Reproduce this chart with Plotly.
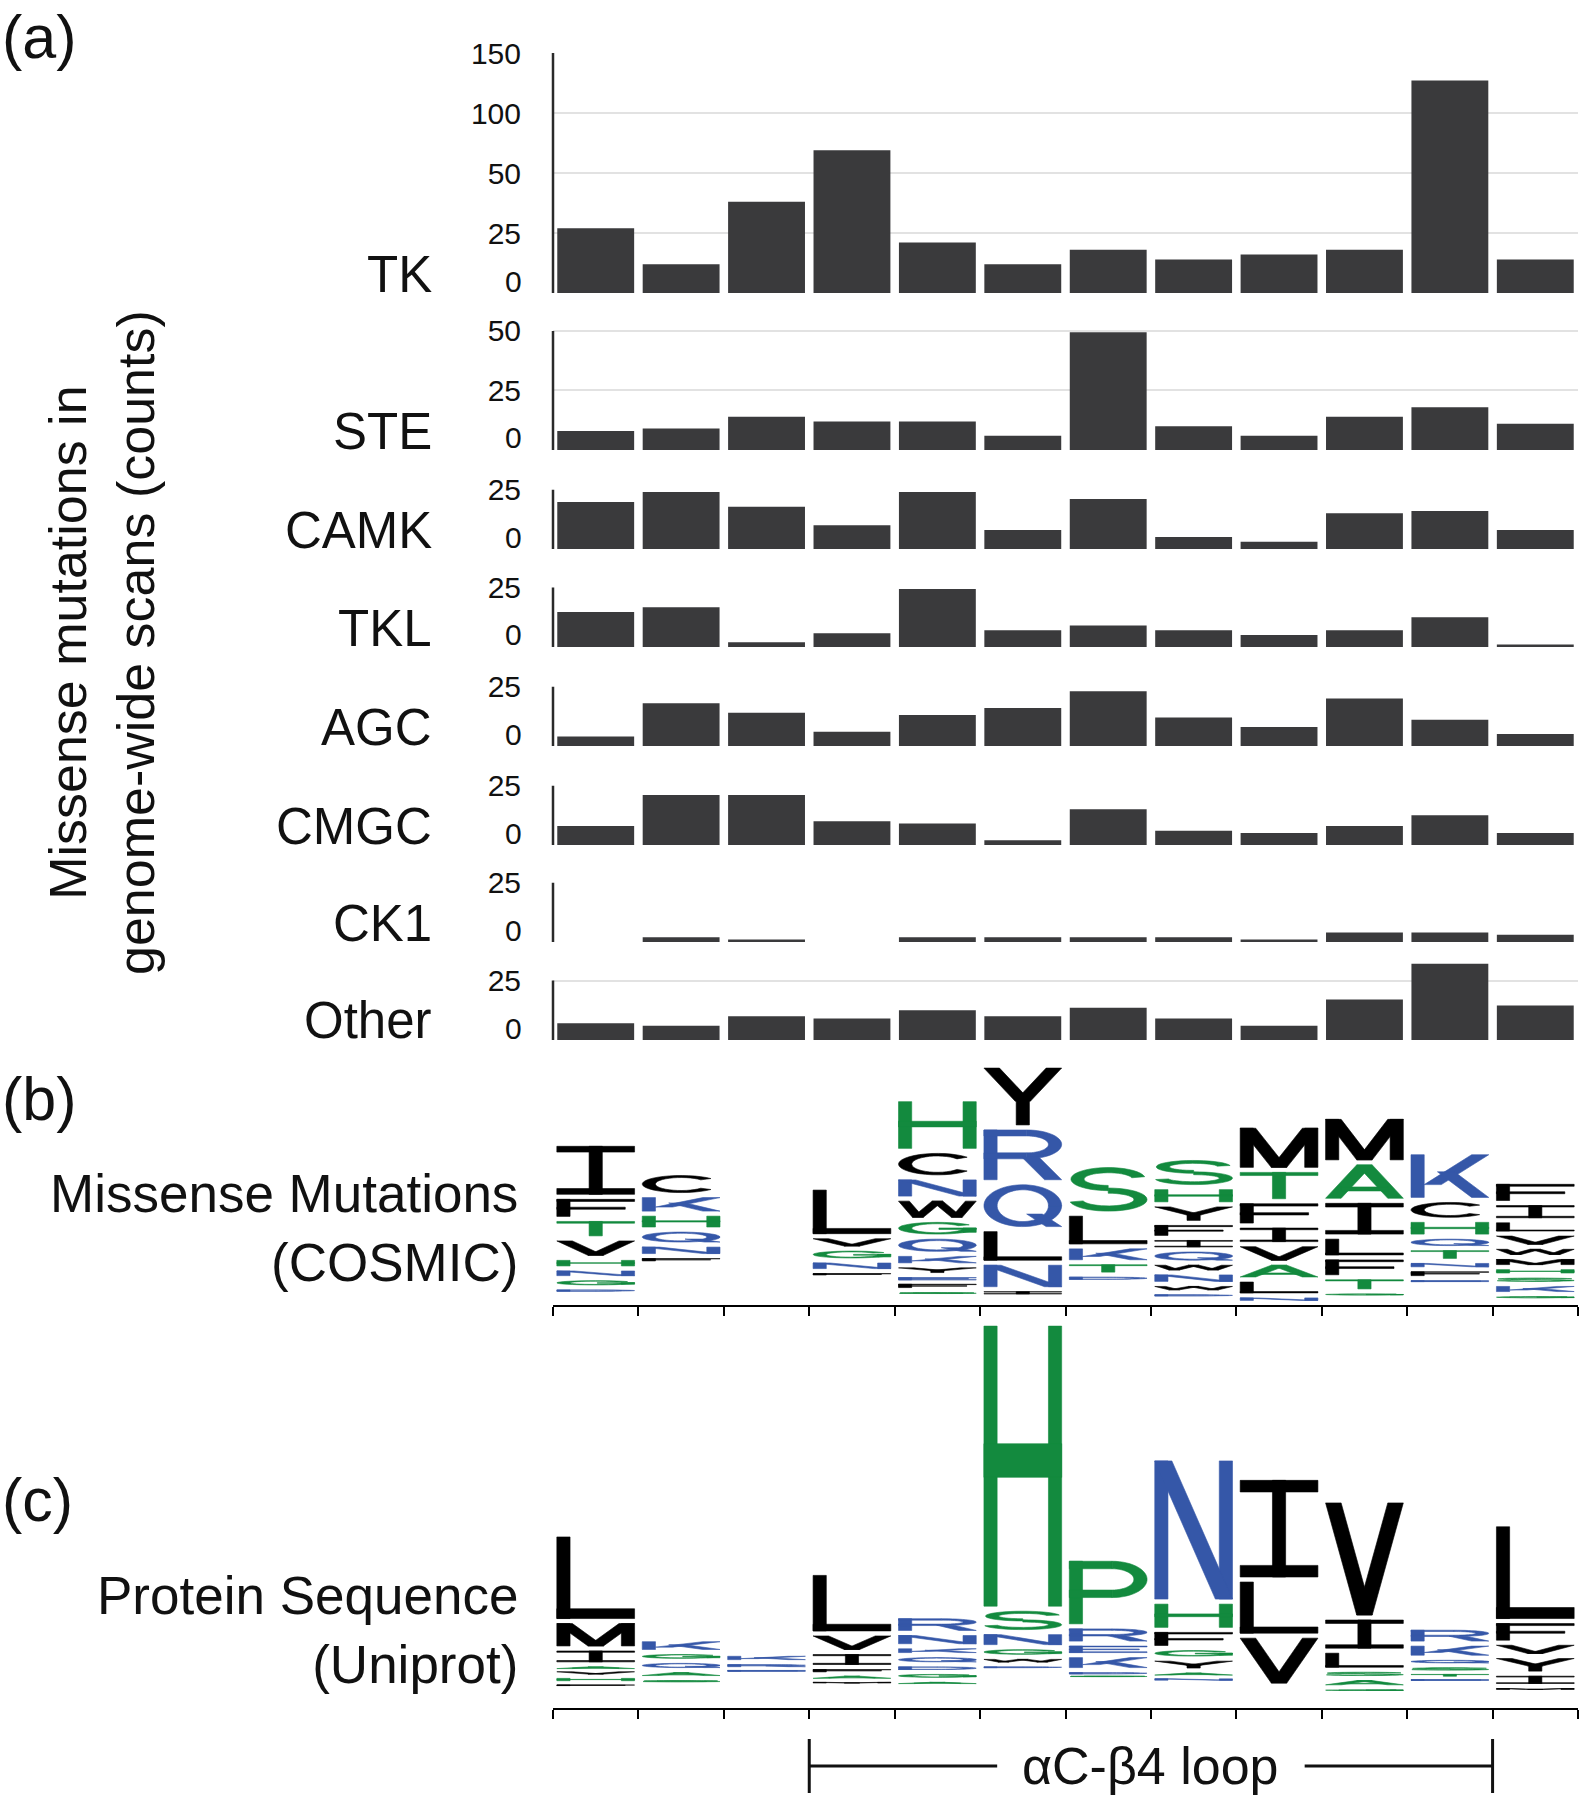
import numpy as np
import plotly.graph_objects as go

# ---------------- data ----------------
families = ["TK", "STE", "CAMK", "TKL", "AGC", "CMGC", "CK1", "Other"]
positions = list(range(1, 13))
tk = [27, 12, 38, 69, 21, 12, 18, 14, 16, 18, 127, 14]
ste = [8, 9, 14, 12, 12, 6, 49.5, 10, 6, 14, 18, 11]
camk = [19.8, 24, 17.8, 10, 24, 8, 21, 5, 3, 15, 16, 8]
tkl = [14.7, 16.7, 2, 5.8, 24.4, 7, 9, 7, 5, 7, 12.5, 1]
agc = [4, 18, 14, 6, 13, 16, 23, 12, 8, 20, 11, 5]
cmgc = [8, 21, 21, 10, 9, 2, 15, 6, 5, 8, 12.5, 5]
ck1 = [0, 2, 1, 0, 2, 2, 2, 2, 1, 4, 4, 3]
other = [7, 6, 10, 9, 12.5, 10, 13.5, 9, 6, 17, 32, 14.5]
counts = [tk, ste, camk, tkl, agc, cmgc, ck1, other]

tk_ticks = [0, 25, 50, 100, 150]
ste_ticks = [0, 25, 50]
small_ticks = [0, 25]

# sequence logo (b): letters top->bottom, heights (bits), invisible remainder below
cosmic_letters = ["IFTVHNGD", "CKHQNF", "", "LVGNF", "HCNWGQKYEFS", "YRQLNI",
                  "SLKTD", "SHYFIQWNWD", "MTFIVALN", "MAILFTG", "KCHQTNFE", "FILVWMHSKG"]
cosmic_heights = [
    [.60, .25, .22, .22, .12, .11, .105, .04],
    [.25, .21, .18, .17, .13, .075],
    [],
    [.55, .14, .135, .12, .045],
    [.585, .30, .24, .24, .19, .195, .13, .11, .075, .095, .03],
    [.70, .62, .53, .38, .30, .07],
    [.55, .37, .18, .14, .07],
    [.33, .195, .21, .17, .13, .15, .11, .13, .095, .035],
    [.50, .355, .275, .21, .21, .19, .18, .08],
    [.515, .435, .405, .235, .225, .16, .035],
    [.54, .225, .19, .13, .145, .095, .10, .03],
    [.24, .195, .15, .15, .115, .115, .095, .095, .115, .04],
]
cosmic_floor = [.13, .45, 0, .31, .11, .08, .245, .08, 0, .09, .245, .055]

# sequence logo (c)
uniprot_letters = ["LMIAVHF", "KGQAS", "KRE", "LVIFAM", "RNKQDGA", "HSNGWD",
                   "PREKDS", "NHFGYAN", "ILV", "VILSAG", "RKQSTE", "LFVYIM"]
uniprot_heights = [
    [.98, .31, .18, .055, .075, .075, .02],
    [.145, .10, .105, .09, .04],
    [.095, .065, .025],
    [.685, .21, .17, .075, .07, .02],
    [.19, .15, .10, .105, .085, .09, .04],
    [3.225, .265, .17, .11, .085, .025],
    [.765, .195, .13, .17, .04, .015],
    [1.62, .32, .205, .12, .135, .065, .045],
    [1.15, .635, .565],
    [1.325, .375, .215, .095, .105, .02],
    [.18, .16, .085, .075, .06, .02],
    [1.095, .245, .15, .20, .14, .03],
]
uniprot_floor = [.24, .27, .40, .27, .25, .44, .345, .285, .225, .185, .30, .19]

# ---------------- style ----------------
W, H = 1583, 1800
FONT = "Liberation Sans, Arial, Helvetica, sans-serif"
BAR = "#3a3a3c"
GRID = "#e2e2e2"
BLACK, GREEN, BLUE = "#000000", "#138a3e", "#3557a8"
COLOR = {c: BLACK for c in "CFILMVWY"}
COLOR.update({c: GREEN for c in "AGHPST"})
COLOR.update({c: BLUE for c in "DEKNQR"})

XL, XR = 553 / W, 1578 / W
def py(px):
    return 1 - px / H

PX_PER_25 = 59.5
baselines = [293, 450, 549, 647, 746, 845, 942, 1040]

fig = go.Figure()
layout = dict(width=W, height=H, margin=dict(l=0, r=0, t=0, b=0, autoexpand=False),
              paper_bgcolor="white", plot_bgcolor="white", showlegend=False,
              bargap=0.1, font=dict(family=FONT, color="#111"))
shapes, annotations = [], []
TICKFONT = dict(size=30, color="#111", family=FONT)

for i, (fam, vals) in enumerate(zip(families, counts)):
    n = i + 1
    xa, ya = f"xaxis{n}", f"yaxis{n}"
    base = baselines[i]
    if fam == "TK":
        ticks = tk_ticks
        tpos = list(range(len(ticks)))
        yv = list(np.interp(vals, ticks, tpos))
        ytop, dtop = tpos[-1], base - 60 * tpos[-1]
        tickvals = tpos
        linetop = tpos[-1]
    else:
        ticks = ste_ticks if fam == "STE" else small_ticks
        yv = vals
        ytop = max(ticks[-1], max(vals) * 1.04)
        dtop = base - PX_PER_25 * ytop / 25
        tickvals = ticks
        linetop = ticks[-1]
    # the zero label sits a little above the baseline, drawn separately below
    ticktext = [("" if t == 0 else str(t)) for t in ticks]
    fig.add_trace(go.Bar(x=positions, y=yv, marker=dict(color=BAR, line=dict(width=0)),
                         xaxis=f"x{n}", yaxis=f"y{n}", hoverinfo="skip"))
    layout[xa] = dict(domain=[XL, XR], range=[0.5, 12.5], visible=False, anchor=f"y{n}")
    layout[ya] = dict(domain=[py(base), py(dtop)], range=[0, ytop], anchor=f"x{n}",
                      tickvals=tickvals, ticktext=ticktext, showgrid=True, gridcolor=GRID,
                      gridwidth=1.5, zeroline=False, showline=False, ticks="", automargin=False,
                      ticklabelstandoff=31, tickfont=TICKFONT)
    annotations.append(dict(text=str(ticks[0]), xref="paper", yref=f"y{n}", x=523 / W, y=0,
                            yshift=12, xanchor="right", yanchor="middle", showarrow=False,
                            borderpad=0, font=TICKFONT))
    shapes.append(dict(type="line", xref="paper", yref=f"y{n}", x0=XL, x1=XL, y0=0, y1=linetop,
                       line=dict(color="#2a2a2a", width=2.5), layer="above"))
    annotations.append(dict(text=fam, xref="paper", yref="paper", x=434 / W, y=py(base - 19),
                            xanchor="right", yanchor="middle", showarrow=False,
                            font=dict(size=51, family=FONT, color="#111")))

# ---------------- glyphs ----------------
SX, SY, DW = 0.17, 0.12, 0.21

def rect(x0, y0, x1, y1):
    return [(x0, y0), (x1, y0), (x1, y1), (x0, y1)]

def band(cx, cy, rx, ry, a0, a1, n=30):
    t = np.radians(np.linspace(a0, a1, n))
    outer = list(zip(cx + rx * np.cos(t), cy + ry * np.sin(t)))
    tr = t[::-1]
    inner = list(zip(cx + (rx - SX) * np.cos(tr), cy + (ry - SY) * np.sin(tr)))
    return outer + inner

def slant(x0, y0, x1, y1, w=DW):
    return [(x0 - w / 2, y0), (x0 + w / 2, y0), (x1 + w / 2, y1), (x1 - w / 2, y1)]

def bowl():
    return [rect(0, 0, SX, 1), rect(0, 1 - SY, 0.55, 1), rect(0, 0.42, 0.55, 0.42 + SY),
            band(0.55, 0.71, 0.45, 0.29, -90, 90)]

def glyph(ch):
    s, t = SX, SY
    if ch == "A":
        return [slant(0.1, 0, 0.5, 1, 0.2), slant(0.9, 0, 0.5, 1, 0.2), rect(0.2, 0.22, 0.8, 0.22 + t)]
    if ch == "C":
        return [band(0.5, 0.5, 0.5, 0.5, 40, 320)]
    if ch == "D":
        return [rect(0, 0, s, 1), rect(0, 0, 0.5, t), rect(0, 1 - t, 0.5, 1), band(0.5, 0.5, 0.5, 0.5, -90, 90)]
    if ch == "E":
        return [rect(0, 0, s, 1), rect(0, 1 - t, 1, 1), rect(0, 0.44, 0.9, 0.44 + t), rect(0, 0, 1, t)]
    if ch == "F":
        return [rect(0, 0, s, 1), rect(0, 1 - t, 1, 1), rect(0, 0.42, 0.88, 0.42 + t)]
    if ch == "G":
        return [band(0.5, 0.5, 0.5, 0.5, 35, 355), rect(0.52, 0.4, 1, 0.4 + t), rect(1 - s, 0.15, 1, 0.4 + t)]
    if ch == "H":
        return [rect(0, 0, s, 1), rect(1 - s, 0, 1, 1), rect(0, 0.46, 1, 0.46 + t)]
    if ch == "I":
        return [rect(0, 1 - t, 1, 1), rect(0, 0, 1, t), rect(0.5 - s / 2, 0, 0.5 + s / 2, 1)]
    if ch == "K":
        return [rect(0, 0, s, 1), slant(0.28, 0.3, 0.89, 1, 0.22), slant(0.45, 0.6, 0.89, 0, 0.22)]
    if ch == "L":
        return [rect(0, 0, s, 1), rect(0, 0, 1, t)]
    if ch == "M":
        return [rect(0, 0, s, 1), rect(1 - s, 0, 1, 1), slant(0.1, 1, 0.5, 0, 0.2), slant(0.9, 1, 0.5, 0, 0.2)]
    if ch == "N":
        return [rect(0, 0, s, 1), rect(1 - s, 0, 1, 1), slant(0.11, 1, 0.89, 0, 0.22)]
    if ch == "O":
        return [band(0.5, 0.5, 0.5, 0.5, 0, 360, 56)]
    if ch == "P":
        return bowl()
    if ch == "Q":
        return [band(0.5, 0.5, 0.5, 0.5, 0, 360, 56), slant(0.65, 0.3, 0.9, 0, 0.2)]
    if ch == "R":
        return bowl() + [slant(0.6, 0.45, 0.89, 0, 0.22)]
    if ch == "S":
        return [band(0.5, 0.735, 0.48, 0.265, 12, 270), band(0.5, 0.265, 0.5, 0.265, 90, -168)]
    if ch == "T":
        return [rect(0, 1 - t, 1, 1), rect(0.5 - s / 2, 0, 0.5 + s / 2, 1)]
    if ch == "V":
        return [slant(0.1, 1, 0.5, 0, 0.2), slant(0.9, 1, 0.5, 0, 0.2)]
    if ch == "W":
        w2 = 0.14
        return [slant(0.07, 1, 0.25, 0, w2), slant(0.5, 1, 0.25, 0, w2),
                slant(0.5, 1, 0.75, 0, w2), slant(0.93, 1, 0.75, 0, w2)]
    if ch == "Y":
        return [slant(0.1, 1, 0.5, 0.42, 0.2), slant(0.9, 1, 0.5, 0.42, 0.2), rect(0.5 - s / 2, 0, 0.5 + s / 2, 0.45)]
    return [band(0.5, 0.5, 0.5, 0.5, 0, 360, 56)]

def poly_path(poly, xl, xr, yb, h):
    pts = [f"{xl + float(u) * (xr - xl):.4f},{yb + float(v) * h:.5f}" for u, v in poly]
    return "M" + " L".join(pts) + " Z"

PAD = 0.045
GAP = 0.057

def add_logo(n, letters, heights, floors, ybottom_px, ytop_px, px_per_bit):
    yr = (ybottom_px - ytop_px) / px_per_bit
    layout[f"xaxis{n}"] = dict(domain=[XL, XR], range=[0.5, 12.5], anchor=f"y{n}",
                               tickvals=[k + 0.5 for k in range(0, 13)], ticks="outside",
                               ticklen=9, tickwidth=2, tickcolor="black", showticklabels=False,
                               showline=True, linewidth=2, linecolor="black",
                               showgrid=False, zeroline=False)
    layout[f"yaxis{n}"] = dict(domain=[py(ybottom_px), py(ytop_px)], range=[0, yr],
                               visible=False, anchor=f"x{n}")
    fig.add_trace(go.Scatter(x=[0.5, 12.5], y=[0, 0], mode="markers", marker=dict(opacity=0),
                             xaxis=f"x{n}", yaxis=f"y{n}", hoverinfo="skip"))
    for col, (lets, hs, fl) in enumerate(zip(letters, heights, floors)):
        xc = positions[col]
        xl, xr = xc - 0.5 + PAD, xc + 0.5 - PAD
        y = fl
        for ch, hgt in zip(lets[::-1], hs[::-1]):
            drawn = max(hgt - GAP, 0.35 * hgt)
            top = y + hgt
            c = COLOR.get(ch, BLACK)
            for poly in glyph(ch):
                shapes.append(dict(type="path", xref=f"x{n}", yref=f"y{n}",
                                   path=poly_path(poly, xl, xr, top - drawn, drawn),
                                   fillcolor=c, line=dict(color=c, width=0.6), layer="above"))
            y = top

add_logo(9, cosmic_letters, cosmic_heights, cosmic_floor, 1305, 1060, 88.4)
add_logo(10, uniprot_letters, uniprot_heights, uniprot_floor, 1708, 1320, 88.4)

# ---------------- text ----------------
def txt(text, x, y, size, xanchor="left", yanchor="middle", **kw):
    annotations.append(dict(text=text, xref="paper", yref="paper", x=x, y=y, xanchor=xanchor,
                            yanchor=yanchor, showarrow=False,
                            font=dict(size=size, family=FONT, color="#111"), **kw))

txt("(a)", 0.0, py(37), 61)
txt("(b)", 0.0, py(1099), 61)
txt("(c)", 0.0, py(1500), 61)
txt("Missense mutations in<br>genome-wide scans (counts)", 102 / W, py(643), 52,
    xanchor="center", textangle=-90)
txt("Missense Mutations<br>(COSMIC)", 520 / W, py(1228), 53, xanchor="right", align="right")
txt("Protein Sequence<br>(Uniprot)", 520 / W, py(1630), 53, xanchor="right", align="right")

# loop bracket (data x of logo axis)
loop_start, loop_end, loop_mid, half_gap = 3.5, 11.5, 7.5, 1.8
by = py(1766)
for xa0, xa1 in [(loop_start, loop_mid - half_gap), (loop_mid + half_gap, loop_end)]:
    shapes.append(dict(type="line", xref="x10", yref="paper", x0=xa0, x1=xa1, y0=by, y1=by,
                       line=dict(color="#111", width=3)))
for xe in (loop_start, loop_end):
    shapes.append(dict(type="line", xref="x10", yref="paper", x0=xe, x1=xe, y0=py(1739), y1=py(1793),
                       line=dict(color="#111", width=3)))
annotations.append(dict(text="αC-β4 loop", xref="x10", yref="paper", x=loop_mid, y=by,
                        xanchor="center", yanchor="middle", showarrow=False,
                        font=dict(size=52, family=FONT, color="#111")))

layout["shapes"] = shapes
layout["annotations"] = annotations
fig.update_layout(**layout)
fig.write_html("out.html", config={"displayModeBar": False},
               post_script="document.body.style.margin='0';document.body.style.padding='0';"
                           "document.documentElement.style.overflow='hidden';"
                           "document.body.style.overflow='hidden';")
